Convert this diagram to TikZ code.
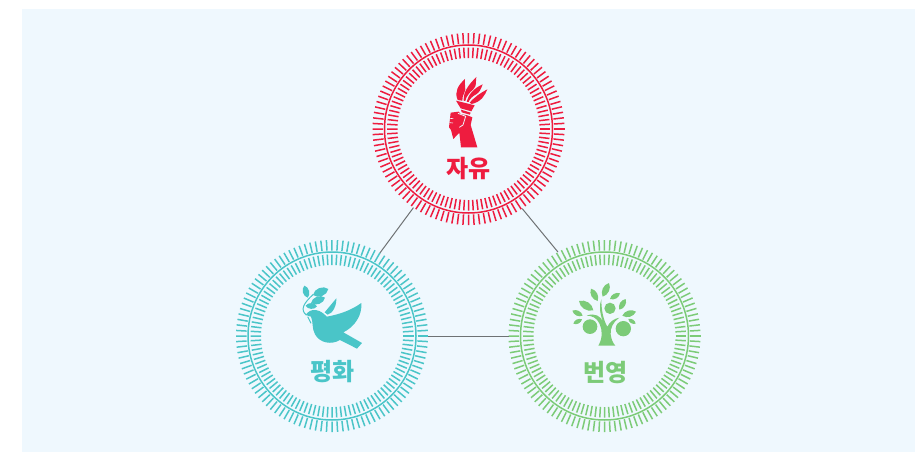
\documentclass[tikz,border=0pt]{standalone}
\usepackage{fontspec}
\newfontfamily\kofont{Noto Sans CJK KR}
\definecolor{panelblue}{HTML}{EFF8FE}
\definecolor{freered}{HTML}{EE1C3F}
\definecolor{peaceteal}{HTML}{4AC5C8}
\definecolor{growgreen}{HTML}{7CCB78}
\definecolor{linkgray}{HTML}{6E7274}
\tikzset{
  ringnode/.style={circle,inner sep=0pt,outer sep=0pt,minimum size=192pt},
  titlenode/.style={inner sep=0pt,font=\kofont\bfseries\fontsize{24}{24}\selectfont},
  linkline/.style={linkgray,line width=1pt}
}
\begin{document}
\begin{tikzpicture}[x=1pt,y=-1pt]
    \useasboundingbox (0,0) rectangle (920,452);
    %Panel
    \fill[panelblue] (22,9) rectangle (915,452);
    %Rings
    \node[ringnode] (free) at (468.5,129) {};
    \node[ringnode] (peace) at (332,336) {};
    \node[ringnode] (growth) at (604.5,336) {};
    \foreach \ring/\col in {free/freered, peace/peaceteal, growth/growgreen}{
      \draw[\col,line width=1.5pt] (\ring) circle (84);
      %Outer and inner ticks
      \foreach \a in {0,3.333,...,359}{
        \draw[\col,line width=1.5pt] ([shift={(\a:85.5)}]\ring.center) -- ([shift={(\a:96)}]\ring.center);
        \draw[\col,line width=1.5pt] ([shift={(\a:71)}]\ring.center) -- ([shift={(\a:81.5)}]\ring.center);
      }
    }
    %Links
    \draw[linkline] (free.235.7) -- (peace.60.5);
    \draw[linkline] (free.304.3) -- (growth.119.5);
    \draw[linkline] (peace) -- (growth);
    %Titles
    \node[titlenode,text=freered] (freetitle) at (468.5,168.5) {자유};
    \node[titlenode,text=peaceteal] (peacetitle) at (332.5,372) {평화};
    \node[titlenode,text=growgreen] (growthtitle) at (605.5,373) {번영};
    %Torch
    \begin{scope}[shift={(430,70)},x=0.3333pt,y=-0.3333pt]
      \fill[freered] (83,90) .. controls (72,65) and (85,45) .. (105,27) .. controls (102,45) and (110,55) .. (103,68) .. controls (98,78) and (97,85) .. (97,92) -- cycle;
      \fill[freered] (101,92) .. controls (100,65) and (115,45) .. (139,21) .. controls (136,35) and (142,45) .. (130,58) .. controls (118,68) and (108,80) .. (106,93) -- cycle;
      \fill[freered] (110,95) .. controls (115,75) and (130,55) .. (158,43) .. controls (152,58) and (150,65) .. (140,72) .. controls (128,78) and (118,88) .. (116,96) -- cycle;
      \fill[freered] (119,98) .. controls (135,80) and (150,70) .. (172,58) .. controls (165,75) and (155,95) .. (125,102) -- cycle;
      \fill[freered] (78,92) -- (134,106) -- (124,124) -- (92,115) -- cycle;
      \fill[freered] (93,119) -- (122,128) -- (119,134) -- (95,127) -- cycle;
      %Arm and fist
      \fill[freered] (62,128) -- (86,125) -- (92,132) -- (112,136) -- (127,142) -- (122,165) -- (142,232) -- (93,232) -- (88,188) -- (70,207) -- (63,180) -- (57,172) -- cycle;
      \draw[panelblue,line width=0.8pt] (84,130) -- (107,139) -- (99,165) -- (88,172);
      \draw[panelblue,line width=0.6pt] (60,145) -- (70,146) (59,158) -- (69,159);
    \end{scope}
    %Dove
    \begin{scope}[shift={(285,275)},x=0.3333pt,y=-0.3333pt]
      \fill[peaceteal] (62,120) .. controls (68,110) and (80,103) .. (92,105) .. controls (110,108) and (118,118) .. (125,125) .. controls (165,118) and (200,105) .. (229,84) .. controls (232,120) and (210,155) .. (175,172) -- (231,204) -- (216,221) -- (165,195) .. controls (140,210) and (105,205) .. (90,178) .. controls (80,160) and (85,140) .. (78,125) -- cycle;
      \fill[peaceteal] (119,112) -- (154,70) .. controls (155,85) and (150,100) .. (140,112) -- (128,119) -- cycle;
      \draw[peaceteal,line width=1pt] (64,120) .. controls (45,105) and (55,85) .. (85,58);
      \draw[peaceteal,line width=1pt] (68,125) -- (78,145);
      \foreach \xa/\ya/\xb/\yb in {68/68/58/32, 84/60/130/42, 78/84/120/68, 62/92/96/94}
        \fill[peaceteal] (\xa,\ya) to[bend left=60] (\xb,\yb) to[bend left=60] (\xa,\ya);
    \end{scope}
    %Tree
    \begin{scope}[shift={(560,275)},x=0.3333pt,y=-0.3333pt]
      \fill[growgreen] (115,212) .. controls (128,190) and (128,165) .. (118,145) .. controls (110,128) and (95,122) .. (80,122) .. controls (105,112) and (122,125) .. (128,138) .. controls (118,110) and (118,90) .. (124,73) .. controls (124,105) and (130,135) .. (142,155) .. controls (150,140) and (160,132) .. (178,128) .. controls (160,140) and (150,160) .. (152,178) .. controls (154,195) and (160,205) .. (166,212) -- cycle;
      \foreach \cx/\cy/\r in {90/155/22, 190/161/23, 150/100/17}
        \fill[growgreen] (\cx,\cy) circle (\r);
      \foreach \xa/\ya/\xb/\yb in {128/65/147/24, 113/78/93/41, 100/106/57/78, 68/122/37/107, 40/146/66/133, 150/72/180/55, 178/104/197/72, 187/122/228/110, 205/132/227/146}
        \fill[growgreen] (\xa,\ya) to[bend left=50] (\xb,\yb) to[bend left=50] (\xa,\ya);
    \end{scope}
\end{tikzpicture}
\end{document}
